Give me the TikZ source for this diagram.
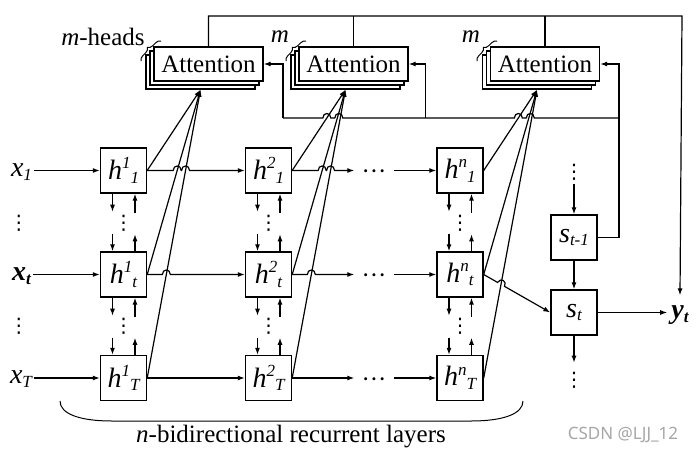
\documentclass[tikz,border=0pt]{standalone}
\usepackage{fontspec}
\setmainfont{Liberation Serif}
\newfontfamily\wmfont{Noto Sans}
\newfontfamily\djv{DejaVu Sans}
\usetikzlibrary{arrows.meta,calc,decorations.pathreplacing}
\newcommand\subs[1]{\raisebox{-0.13em}{\fontsize{17}{17}\selectfont #1}}
\newcommand\sups[1]{\raisebox{0.38em}{\fontsize{17}{17}\selectfont #1}}
\newcommand\hlab[2]{\textit{h\sups{#1}\subs{#2}}}
\newcommand\vd{{\djv\fontsize{20}{20}\selectfont ⋮}}
\newcommand\hd{\smash{\raisebox{-9pt}{···}}}
\begin{document}
\begin{tikzpicture}[x=1pt,y=-1pt,font=\fontsize{25}{30}\selectfont,
  lab/.style={font=\fontsize{28}{32}\selectfont},
  hbox/.style={lab,draw,line width=1.4pt,fill=white,minimum width=46pt,minimum height=45pt,inner sep=0pt},
  attbox/.style={draw,line width=1.3pt,fill=white,minimum width=109pt,minimum height=34pt,inner sep=0pt},
  ln/.style={line width=1.2pt},
  arr/.style={ln,-{Latex[length=7pt,width=5pt]}},
  dotv/.style={inner sep=0pt},
  dotsh/.style={inner sep=0pt,minimum width=39pt,minimum height=10pt},
  hj/.style={insert path={-- ($(#1)+(-4,0)$) .. controls ($(#1)+(-4,-6)$) and ($(#1)+(4,-6)$) .. ($(#1)+(4,0)$)}},
  brc/.style={line width=1pt,decorate,decoration={brace,amplitude=5pt}}]
\useasboundingbox (0,0) rectangle (699,455);

% attention stacks
\foreach \i/\cx in {1/208.5,2/353.5,3/545}{
  \node[attbox] (att\i z) at (\cx-8,72) {};
  \node[attbox] (att\i y) at (\cx-4,68) {};
  \node[attbox] (att\i) at (\cx,64) {Attention};
}
\node (mh) at (103,37) {\textit{m}-heads};
\node (m2) at (280,37) {\textit{m}};
\node (m3) at (471,37) {\textit{m}};
\foreach \dx in {0,145,336}
  \draw[brc] (141+\dx,61) -- (161+\dx,41);

% h boxes
\foreach \col/\x/\s in {1/123.5/1,2/268.5/2,n/460/n}{
  \node[hbox] (h\col a) at (\x,170.5) {\hlab{\s}{1}};
  \node[hbox] (h\col b) at (\x,274.5) {\hlab{\s}{t}};
  \node[hbox] (h\col c) at (\x,378) {\hlab{\s}{T}};
  \draw[arr] ($(h\col a.south)+(-11,0)$) -- ++(0,18);
  \draw[arr] ($(h\col a.south)+(11.5,19)$) -- ($(h\col a.south)+(11.5,0)$);
  \node[dotv] at (\x,223) {\vd};
  \draw[arr] ($(h\col b.north)+(-11,-17)$) -- ($(h\col b.north)+(-11,0)$);
  \draw[arr] ($(h\col b.north)+(11.5,0)$) -- ++(0,-17);
  \draw[arr] ($(h\col b.south)+(-11,0)$) -- ++(0,18);
  \draw[arr] ($(h\col b.south)+(11.5,19)$) -- ($(h\col b.south)+(11.5,0)$);
  \node[dotv] at (\x,326) {\vd};
  \draw[arr] ($(h\col c.north)+(-11,-17)$) -- ($(h\col c.north)+(-11,0)$);
  \draw[arr] ($(h\col c.north)+(11.5,0)$) -- ++(0,-17);
}

% inputs
\node[lab,inner sep=2pt] (x1) at (21.5,172) {\textit{x\subs{1}}};
\node[lab,inner sep=2pt] (xt) at (21.5,276) {\textbf{\textit{x\subs{t}}}};
\node[lab,inner sep=2pt] (xT) at (21,379) {\textit{x\subs{T}}};
\node[dotv] (xd1) at (19,223) {\vd};
\node[dotv] (xd2) at (19,326) {\vd};
\draw[arr] (x1.east |- h1a.west) -- (h1a.west);
\draw[arr] (xt.east |- h1b.west) -- (h1b.west);
\draw[arr] (xT.east |- h1c.west) -- (h1c.west);

% horizontal dots
\node[dotsh] (da) at (374,170.5) {\hd};
\node[dotsh] (db) at (374,274.5) {\hd};
\node[dotsh] (dc) at (374,378) {\hd};

% s nodes and output
\node[hbox] (stm) at (574,237.5) {\textit{s\subs{t-1}}};
\node[hbox] (st) at (574,312.5) {\textit{s\subs{t}}};
\node[dotv] (sd1) at (574,172) {\vd};
\node[dotv] (sd2) at (574,380) {\vd};
\draw[arr] ($(stm.north)+(0,-30)$) -- (stm.north);
\draw[arr] (stm.south) -- (st.north);
\draw[arr] (st.south) -- ++(0,27);
\node[lab,inner xsep=4pt,inner ysep=10pt] (yt) at (680,315) {\textbf{\textit{y\subs{t}}}};
\draw[arr] (st.east) -- (st.east -| yt.west);

% tips
\coordinate (tip1) at (att1z.south);
\coordinate (tip2) at (att2z.south);
\coordinate (tipn) at (att3z.south);
\foreach \col in {1,2,n}
  \foreach \r in {a,b,c}
    \draw[arr] (h\col\r.east) -- (tip\col);

% feedback coordinates
\coordinate (fbL) at (283,118);
\coordinate (fbM) at (425.7,118);
\coordinate (fbR) at (619,118);
\coordinate (tr) at (682,16);

% intersections
\coordinate (J1) at (intersection of h1a.east--h2a.west and h1b.east--tip1);
\coordinate (J2) at (intersection of h1a.east--h2a.west and h1c.east--tip1);
\coordinate (J3) at (intersection of h1b.east--h2b.west and h1c.east--tip1);
\coordinate (J4) at (intersection of h2a.east--da.west and h2b.east--tip2);
\coordinate (J5) at (intersection of h2a.east--da.west and h2c.east--tip2);
\coordinate (J6) at (intersection of h2b.east--db.west and h2c.east--tip2);
\coordinate (F1) at (intersection of fbL--fbR and h2a.east--tip2);
\coordinate (F2) at (intersection of fbL--fbR and h2b.east--tip2);
\coordinate (F3) at (intersection of fbL--fbR and h2c.east--tip2);
\coordinate (F4) at (intersection of fbL--fbR and hna.east--tipn);
\coordinate (F5) at (intersection of fbL--fbR and hnb.east--tipn);
\coordinate (F6) at (intersection of fbL--fbR and hnc.east--tipn);
\coordinate (F23) at ($(F2)!0.5!(F3)$);
\coordinate (F56) at ($(F5)!0.5!(F6)$);
\coordinate (K) at (intersection of hnb.east--st.west and hnc.east--tipn);

% horizontal recurrent connections
\draw[arr] (h1a.east) [hj=J1] [hj=J2] -- (h2a.west);
\draw[arr] (h1b.east) [hj=J3] -- (h2b.west);
\draw[arr] (h1c.east) -- (h2c.west);
\draw[arr] (h2a.east) [hj=J4] [hj=J5] -- (da.west);
\draw[arr] (h2b.east) [hj=J6] -- (db.west);
\draw[arr] (h2c.east) -- (dc.west);
\draw[arr] (da.east) -- (hna.west);
\draw[arr] (db.east) -- (hnb.west);
\draw[arr] (dc.east) -- (hnc.west);

% h^n_t to s_t with jump
\draw[arr] (hnb.east) -- ($(K)!4pt!(hnb.east)$)
  .. controls ($(K)!4pt!(hnb.east)!6pt!90:(K)$) and ($(K)!4pt!(st.west)!6pt!-90:(K)$) ..
  ($(K)!4pt!(st.west)$) -- (st.west);

% feedback from s_{t-1}
\draw[arr] (stm.east) -- (stm.east -| fbR) -- (fbR |- att3.east) -- (att3.east);
\draw[ln] (fbL) [hj=F1] [hj=F23] -- (fbM) [hj=F4] [hj=F56] -- (fbR);
\draw[arr] (fbL) -- (fbL |- att1.east) -- (att1.east);
\draw[arr] (fbM) -- (fbM |- att2.east) -- (att2.east);

% attention outputs to y_t
\draw[arr] (att1.north) -- (att1.north |- tr) -- (tr) -- (yt.north);
\draw[ln] (att2.north) -- (att2.north |- tr);
\draw[ln] (att3.north) -- (att3.north |- tr);

% bottom bracket and caption
\draw[line width=1pt] (60,401) .. controls (60,414) and (80,421) .. (112,421) -- (471,421) .. controls (503,421) and (523,414) .. (523,401);
\node (cap) at (291,437) {\textit{n}-bidirectional recurrent layers};
\node[text=black!35,font=\wmfont\fontsize{17}{20}\selectfont] (wm) at (623,435) {CSDN @LJJ\_12};
\end{tikzpicture}
\end{document}
